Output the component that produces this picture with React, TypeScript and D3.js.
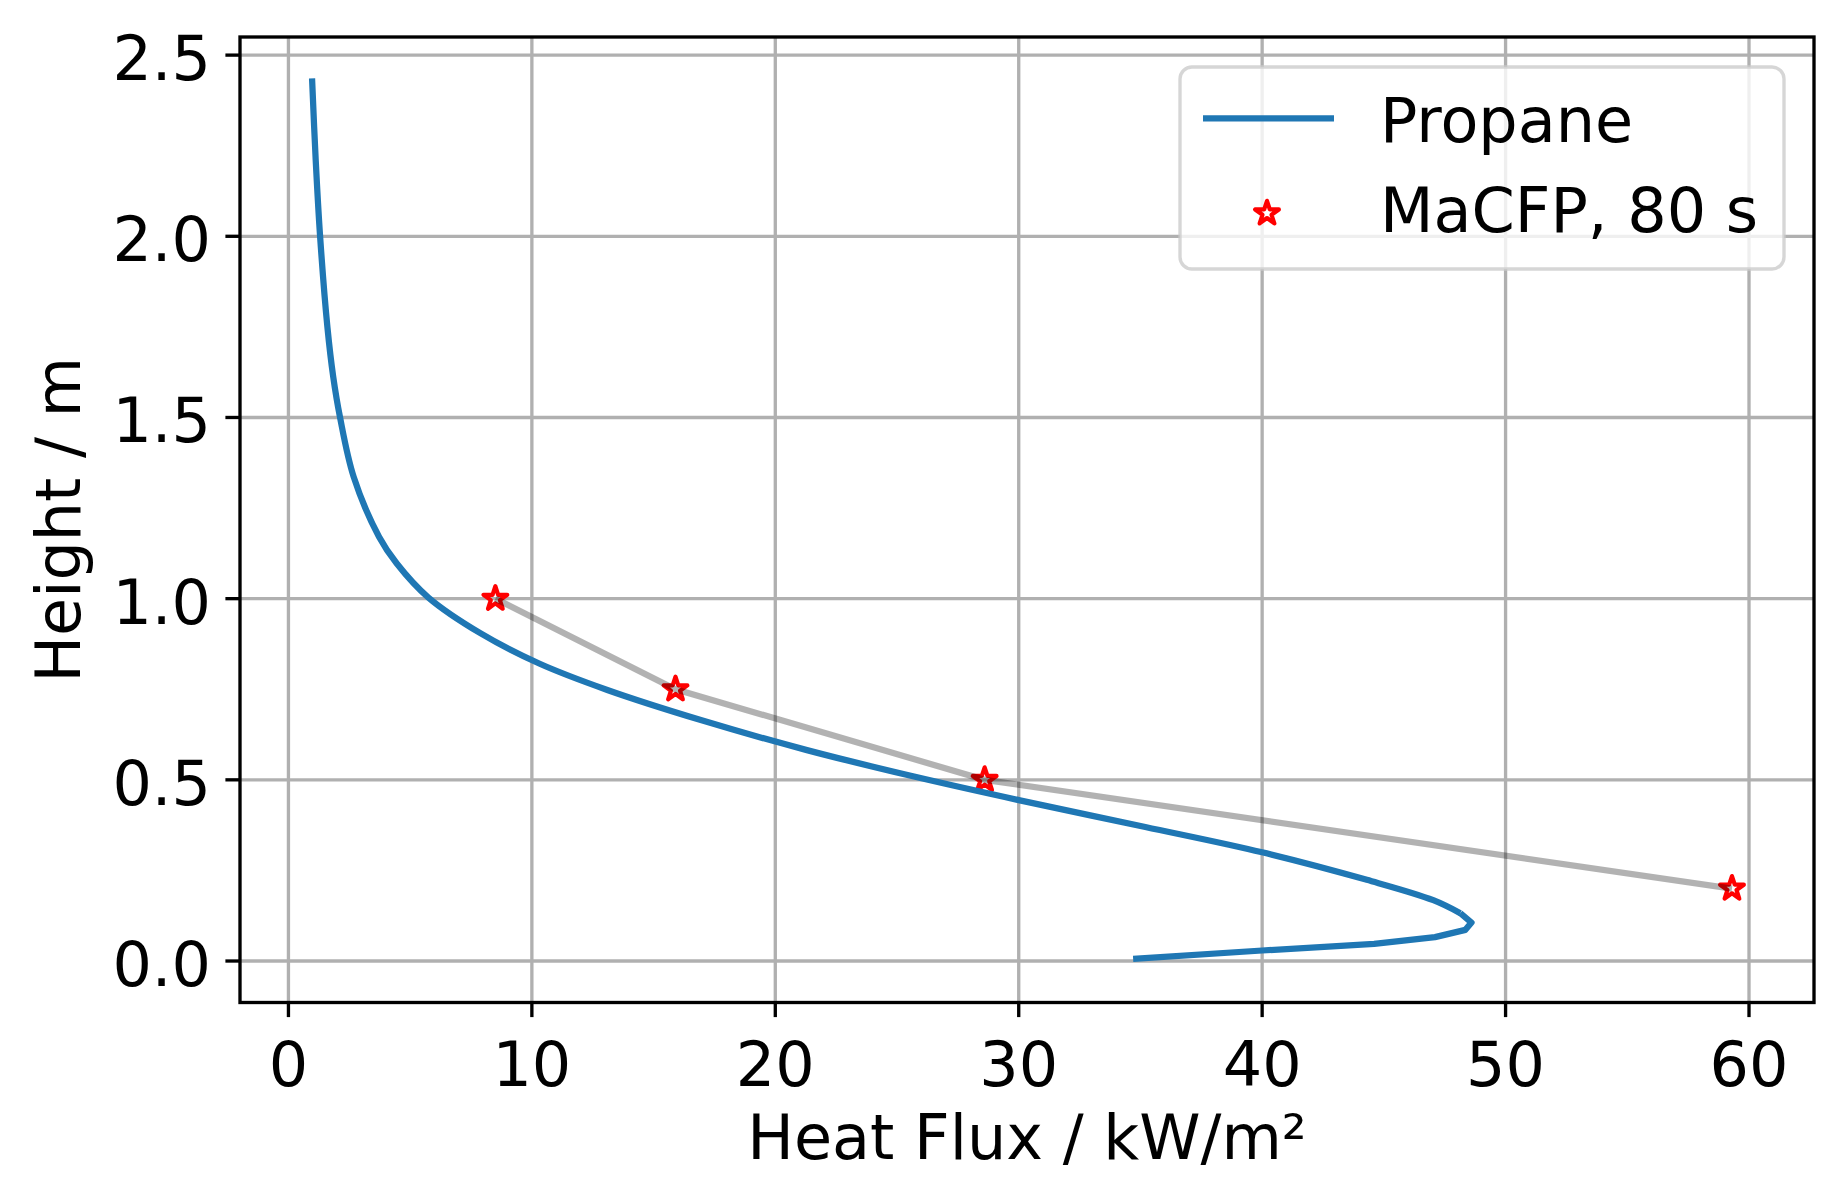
import { useMemo } from "react";
import * as d3 from "d3";

const W = 1847;
const H = 1204;
// axes box in px (measured)
const AX = { left: 240, right: 1814, top: 37, bottom: 1002.5 };

// Propane model profile: heat flux (kW/m²) vs height (m), bottom to top
const propaneFlux = [
  34.7, 40.0, 44.6, 47.1, 48.35, 48.6, 48.14, 47.03, 44.3, 40.0, 35.2, 30.0, 25.7, 21.3, 16.94,
  13.1, 10.3, 7.9, 5.75, 4.45, 3.72, 2.68, 2.12, 1.84, 1.6, 1.3, 1.12, 0.97,
];
const propaneHeight = [
  0.006, 0.029, 0.047, 0.066, 0.086, 0.106, 0.132, 0.168, 0.224, 0.3, 0.37, 0.444, 0.509, 0.582, 0.665,
  0.748, 0.821, 0.904, 1.003, 1.097, 1.171, 1.336, 1.5, 1.612, 1.75, 2.0, 2.21, 2.436,
];
// below this index the profile is sampled coarsely (sharp kinks), above it is smooth
const KINK_END = 6;

// MaCFP measurements at 80 s
const macfpFlux = [59.3, 28.6, 15.9, 8.5];
const macfpHeight = [0.2, 0.5, 0.75, 1.0];

const xTicks = [0, 10, 20, 30, 40, 50, 60];
const yTicks = [0, 0.5, 1.0, 1.5, 2.0, 2.5];

const FONT = "DejaVu Sans";
const FS = 62;
const BLUE = "#1f77b4";
const GRID = "#b0b0b0";

export default function App() {
  const x = useMemo(() => d3.scaleLinear().domain([-1.99, 62.67]).range([AX.left, AX.right]), []);
  const y = useMemo(() => d3.scaleLinear().domain([-0.1145, 2.55]).range([AX.bottom, AX.top]), []);

  const propane = propaneFlux.map((v, i) => [v, propaneHeight[i]] as [number, number]);
  const macfp = macfpFlux.map((v, i) => [v, macfpHeight[i]] as [number, number]);

  const linear = d3
    .line<[number, number]>()
    .x((d) => x(d[0]))
    .y((d) => y(d[1]));
  const smooth = d3
    .line<[number, number]>()
    .x((d) => x(d[0]))
    .y((d) => y(d[1]))
    .curve(d3.curveCatmullRom.alpha(0.5));

  const lowerD = linear(propane.slice(0, KINK_END + 1));
  const upperD = smooth(propane.slice(KINK_END));
  const greyD = linear(macfp);

  const star = d3.symbol().type(d3.symbolStar).size(175)() ?? "";

  return (
    <svg
      width={W}
      height={H}
      viewBox={`0 0 ${W} ${H}`}
      style={{ position: "absolute", left: 0, top: 0, background: "#fff" }}
      fontFamily={FONT}
    >
      <rect width={W} height={H} fill="#fff" />

      {/* grid */}
      {xTicks.map((t) => (
        <line key={`gx${t}`} x1={x(t)} x2={x(t)} y1={AX.top} y2={AX.bottom} stroke={GRID} strokeWidth={3.33} />
      ))}
      {yTicks.map((t) => (
        <line key={`gy${t}`} x1={AX.left} x2={AX.right} y1={y(t)} y2={y(t)} stroke={GRID} strokeWidth={3.33} />
      ))}

      {/* measurements: stars first, connecting grey line over them */}
      {macfp.map((d, i) => (
        <path
          key={`s${i}`}
          d={star}
          transform={`translate(${x(d[0])},${y(d[1])})`}
          fill="none"
          stroke="#ff0000"
          strokeWidth={4.2}
          strokeLinejoin="round"
        />
      ))}
      <path d={greyD ?? undefined} fill="none" stroke="#000" strokeOpacity={0.3} strokeWidth={6.25} />

      <path d={lowerD ?? undefined} fill="none" stroke={BLUE} strokeWidth={6.25} strokeLinejoin="round" />
      <path d={upperD ?? undefined} fill="none" stroke={BLUE} strokeWidth={6.25} strokeLinejoin="round" />

      {/* spines */}
      <rect
        x={AX.left}
        y={AX.top}
        width={AX.right - AX.left}
        height={AX.bottom - AX.top}
        fill="none"
        stroke="#000"
        strokeWidth={3.33}
      />

      {/* x ticks */}
      {xTicks.map((t) => (
        <g key={`tx${t}`}>
          <line x1={x(t)} x2={x(t)} y1={AX.bottom} y2={AX.bottom + 14.6} stroke="#000" strokeWidth={3.33} />
          <text x={x(t)} y={1086} textAnchor="middle" fontSize={FS}>
            {t}
          </text>
        </g>
      ))}
      {/* y ticks */}
      {yTicks.map((t) => (
        <g key={`ty${t}`}>
          <line x1={AX.left - 14.6} x2={AX.left} y1={y(t)} y2={y(t)} stroke="#000" strokeWidth={3.33} />
          <text x={211} y={y(t) + 25} textAnchor="end" fontSize={FS}>
            {t.toFixed(1)}
          </text>
        </g>
      ))}

      <text x={(AX.left + AX.right) / 2} y={1159} textAnchor="middle" fontSize={FS}>
        Heat Flux / kW/m²
      </text>
      <text
        transform={`translate(80,${(AX.top + AX.bottom) / 2}) rotate(-90)`}
        textAnchor="middle"
        fontSize={FS}
      >
        Height / m
      </text>

      {/* legend */}
      <rect
        x={1180}
        y={67}
        width={604}
        height={202}
        rx={12}
        fill="#fff"
        fillOpacity={0.8}
        stroke="#cccccc"
        strokeOpacity={0.8}
        strokeWidth={3.33}
      />
      <line x1={1203} x2={1334} y1={118.3} y2={118.3} stroke={BLUE} strokeWidth={6.25} />
      <text x={1380} y={141.7} fontSize={FS}>
        Propane
      </text>
      <path
        d={star}
        transform="translate(1267,213.3)"
        fill="none"
        stroke="#ff0000"
        strokeWidth={4.2}
        strokeLinejoin="round"
      />
      <text x={1380} y={231.7} fontSize={FS}>
        MaCFP, 80 s
      </text>
    </svg>
  );
}
